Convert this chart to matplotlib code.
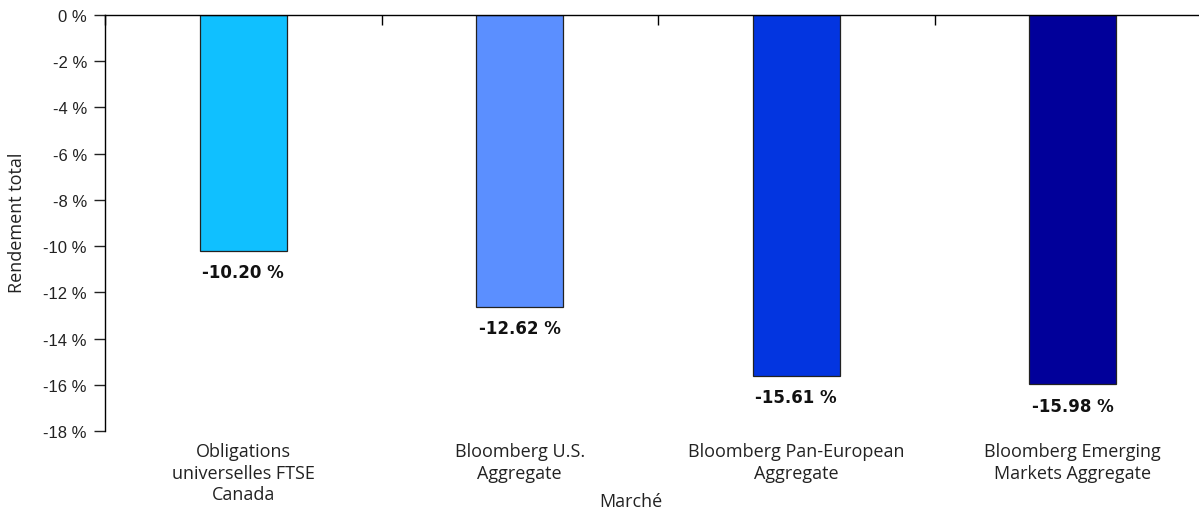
import numpy as np
import matplotlib
matplotlib.use('Agg')
import matplotlib.pyplot as plt

categories = ['Obligations\nuniverselles FTSE\nCanada', 'Bloomberg U.S.\nAggregate',
              'Bloomberg Pan-European\nAggregate', 'Bloomberg Emerging\nMarkets Aggregate']
returns = [-10.20, -12.62, -15.61, -15.98]
bar_colors = ['#10C0FF', '#5B8FFF', '#0335E0', '#01009A']
yticks = np.arange(0, -20, -2)

plt.rcParams['font.family'] = ['Open Sans', 'DejaVu Sans']

fig = plt.figure(figsize=(11.99, 5.10), dpi=100)
ax = fig.add_axes([105/1199, 1-432/510, 1106/1199, 416/510])

x = np.arange(len(categories))
ax.bar(x, returns, width=0.313, color=bar_colors, edgecolor='#222222', linewidth=0.9)

for xi, v in zip(x, returns):
    ax.annotate(f'{v:.2f} %', (xi, v), xytext=(0, -9), textcoords='offset points',
                ha='center', va='top', fontsize=12, fontweight='bold',
                family='DejaVu Sans', color='#111111')

ax.set_xlim(-0.5, 3.5)
ax.set_ylim(-18, 0)
ax.set_yticks(yticks)
ax.set_yticklabels([f'{t} %' for t in yticks], family='Liberation Sans', fontsize=12)
ax.tick_params(axis='y', direction='out', length=8, width=1, pad=5, colors='#222222')

ax.set_xticks(np.arange(-0.5, 3.5, 1))
ax.set_xticks(x, minor=True)
ax.set_xticklabels(categories, minor=True, fontsize=13, color='#222222', linespacing=1.25)
ax.tick_params(axis='x', which='major', top=True, bottom=False, labelbottom=False,
               direction='in', length=7, width=1)
ax.tick_params(axis='x', which='minor', bottom=False, top=False, labelbottom=True,
               length=0, pad=8)

for s in ['bottom', 'right']:
    ax.spines[s].set_visible(False)
ax.spines['left'].set_linewidth(1)
ax.spines['top'].set_linewidth(1)

fig.text(17/1199, 1-223/510, 'Rendement total', rotation=90, ha='center', va='center',
         fontsize=13, color='#222222')
fig.text(631/1199, 1-502/510, 'Marché', ha='center', va='center', fontsize=13, color='#222222')

fig.savefig('out.png', dpi=100)
